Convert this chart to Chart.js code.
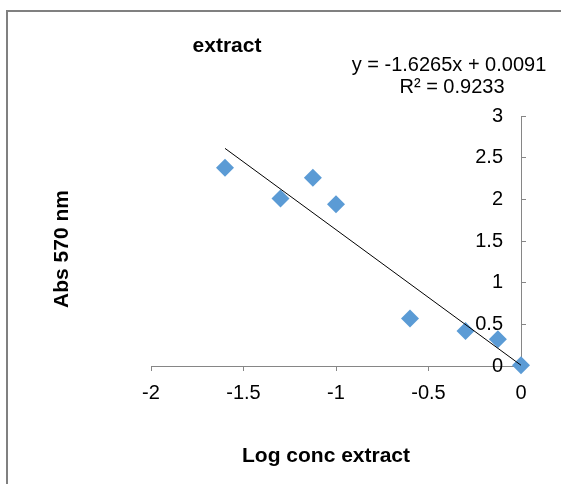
<!DOCTYPE html>
<html>
<head>
<meta charset="utf-8">
<script src="https://cdn.jsdelivr.net/npm/chart.js@4"></script>
<style>
  html, body { margin: 0; padding: 0; background: #fff; }
  #wrap { width: 561px; height: 484px; }
</style>
</head>
<body>
<div id="wrap"><canvas id="grafico" width="561" height="484"></canvas></div>
<script>
// Dados
const logConc = [-1.6, -1.3, -1.125, -1, -0.6, -0.3, -0.125, 0];
const absorbancia = [2.38, 2.01, 2.26, 1.94, 0.57, 0.42, 0.32, 0.01];
const xTicks = [-2, -1.5, -1, -0.5, 0];
const yTicks = [0, 0.5, 1, 1.5, 2, 2.5, 3];
const trendCoef = [-1.6265, 0.0091]; // inclinação, intercepto
const tituloGrafico = "extract";
const equacao = ["y = -1.6265x + 0.0091", "R² = 0.9233"];
const tituloX = "Log conc extract";
const tituloY = "Abs 570 nm";

const fonte = '"Liberation Sans", Arial, sans-serif';
const cinza = "#868686";

// Linha de tendência a partir da equação mostrada
const xMin = Math.min(...logConc);
const xMax = Math.max(...logConc);
const tendencia = [xMin, xMax].map(x => ({ x, y: trendCoef[0] * x + trendCoef[1] }));

// Textos e moldura
const textos = {
  id: "textos",
  afterDraw(chart) {
    const ctx = chart.ctx;
    ctx.save();
    ctx.fillStyle = "#000";
    ctx.textAlign = "center";
    ctx.textBaseline = "middle";

    ctx.font = `bold 21px ${fonte}`;
    ctx.fillText(tituloGrafico, 227, 46);
    ctx.fillText(tituloX, 326, 456);

    ctx.save();
    ctx.translate(62, 249);
    ctx.rotate(-Math.PI / 2);
    ctx.fillText(tituloY, 0, 0);
    ctx.restore();

    ctx.font = `20px ${fonte}`;
    ctx.fillText(equacao[0], 449, 65);
    ctx.fillText(equacao[1], 452, 87);

    ctx.strokeStyle = "#808080";
    ctx.lineWidth = 2;
    ctx.strokeRect(7, 11, 600, 520);
    ctx.restore();
  }
};

new Chart(document.getElementById("grafico"), {
  type: "scatter",
  data: {
    datasets: [
      {
        label: "extract",
        data: logConc.map((x, i) => ({ x, y: absorbancia[i] })),
        pointStyle: "rectRot",
        pointRadius: 9,
        pointHoverRadius: 9,
        backgroundColor: "#5B9BD5",
        borderColor: "#5B9BD5",
        borderWidth: 0,
        clip: false,
        order: 1
      },
      {
        type: "line",
        label: "tendência",
        data: tendencia,
        borderColor: "#000",
        borderWidth: 1,
        pointRadius: 0,
        fill: false,
        clip: false,
        order: 0
      }
    ]
  },
  plugins: [textos],
  options: {
    responsive: false,
    animation: false,
    layout: { padding: { left: 151, right: 35, top: 116, bottom: 79 } },
    plugins: {
      legend: { display: false },
      tooltip: { enabled: false },
      title: { display: false }
    },
    scales: {
      x: {
        type: "linear",
        position: "bottom",
        min: -2,
        max: 0,
        afterBuildTicks: s => { s.ticks = xTicks.map(v => ({ value: v })); },
        afterFit: s => { s.height = 39; },
        grid: { drawOnChartArea: false, drawTicks: true, tickLength: 5, color: cinza },
        border: { color: cinza, width: 1 },
        ticks: { color: "#000", font: { family: fonte, size: 20 }, padding: 10, callback: v => String(v) }
      },
      y: {
        type: "linear",
        position: "right",
        min: 0,
        max: 3,
        afterBuildTicks: s => { s.ticks = yTicks.map(v => ({ value: v })); },
        afterFit: s => { s.width = 5; },
        grid: { drawOnChartArea: false, drawTicks: true, tickLength: 5, color: cinza },
        border: { color: cinza, width: 1 },
        ticks: { color: "#000", font: { family: fonte, size: 20 }, mirror: true, padding: -18, callback: v => String(v) }
      }
    }
  }
});
</script>
</body>
</html>
